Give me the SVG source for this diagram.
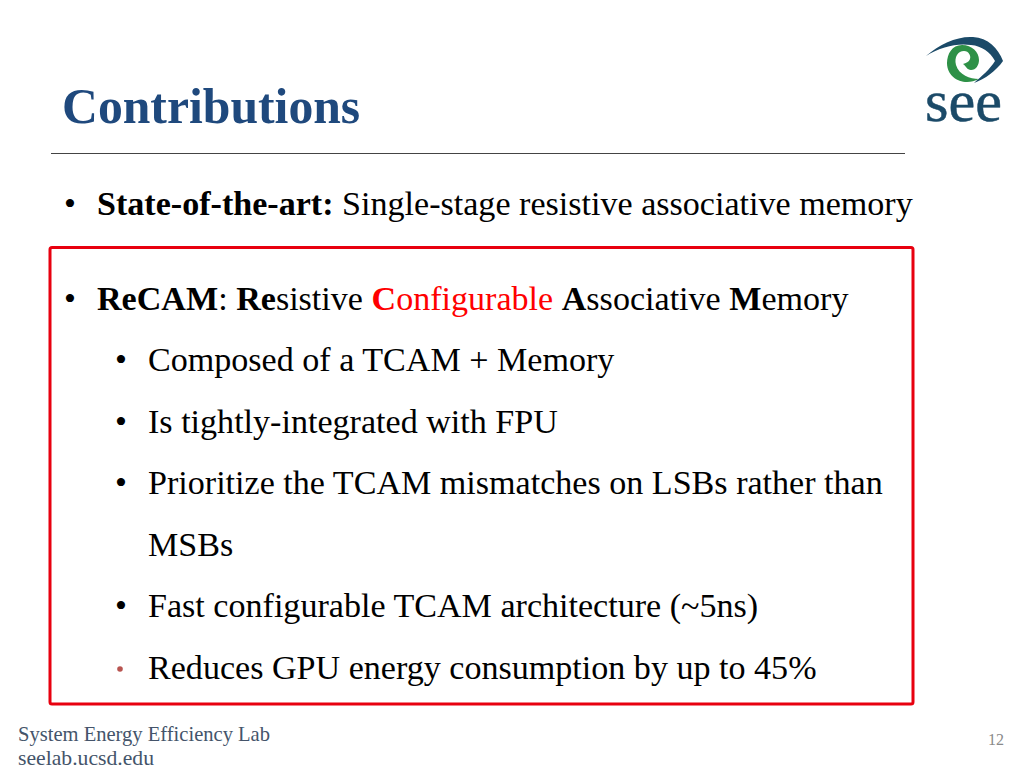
<svg xmlns="http://www.w3.org/2000/svg" width="1024" height="768" viewBox="0 0 1024 768">
<style>
text{font-family:"Liberation Serif","Times New Roman",serif;fill:#000}
.b{font-size:34.100px}
.bold{font-weight:700}
.r{fill:#f00}
.foot{font-size:21px;fill:#44546a}
</style>
<rect width="1024" height="768" fill="#fff"/>
<g id="title"><text x="62" y="123" font-size="49.700" font-weight="700" style="fill:#1f497d">Contributions</text></g>
<line x1="51" y1="153.500" x2="905" y2="153.500" stroke="#444" stroke-width="1"/>
<g id="logo">
<path d="M926 56C940 44 957 36 973 37C988 38 998 48 1003 61C996 71 985 79 974 83C982 76 990 69 995 61C990 52 982 46 971 45C956 43 941 47 926 56Z" fill="#1b4a68"/>
<path d="M962 45C952 45 947 54 947 63C947 75 957 82 967 82C971 82 975 81 979 79C970 79 959 75 956 65C954 57 958 51 964 51C969 51 971 56 970 59C969 62 966 63 963 64C966 66 967 70 971 70C976 70 979 65 979 60C979 52 972 45 962 45Z" fill="#2e9147"/>
<text x="925" y="121" font-size="60" textLength="77" lengthAdjust="spacingAndGlyphs" style="fill:#1b4a68;stroke:#1b4a68;stroke-width:.5">see</text>
</g>
<g id="intro">
<text class="b" x="64" y="215">•</text>
<text class="b" x="97" y="215"><tspan class="bold">State-of-the-art:</tspan> Single-stage resistive associative memory</text>
</g>
<g id="box"><rect x="50" y="247.500" width="863" height="456.500" rx="2" fill="none" stroke="#e8000f" stroke-width="3"/></g>
<g id="list">
<text class="b" x="64" y="310">•</text>
<text class="b" x="97" y="310"><tspan class="bold">ReCAM</tspan>: <tspan class="bold">Re</tspan>sistive <tspan class="bold r">C</tspan><tspan class="r">onfigurable </tspan><tspan class="bold">A</tspan>ssociative <tspan class="bold">M</tspan>emory</text>
<text class="b" x="115" y="371">•</text>
<text class="b" x="148" y="371">Composed of a TCAM + Memory</text>
<text class="b" x="115" y="433">•</text>
<text class="b" x="148" y="433">Is tightly-integrated with FPU</text>
<text class="b" x="115" y="494">•</text>
<text class="b" x="148" y="494">Prioritize the TCAM mismatches on LSBs rather than</text>
<text class="b" x="148" y="556">MSBs</text>
<text class="b" x="115" y="617">•</text>
<text class="b" x="148" y="617">Fast configurable TCAM architecture (~5ns)</text>
<circle cx="120" cy="669" r="2.800" fill="#b85450"/>
<text class="b" x="148" y="679">Reduces GPU energy consumption by up to 45%</text>
</g>
<g id="footer">
<text class="foot" x="18" y="741" textLength="252" lengthAdjust="spacingAndGlyphs">System Energy Efficiency Lab</text>
<text class="foot" x="18" y="765" textLength="136" lengthAdjust="spacingAndGlyphs">seelab.ucsd.edu</text>
<text x="988" y="745" font-size="16" style="fill:#8a8a8a">12</text>
</g>
</svg>
